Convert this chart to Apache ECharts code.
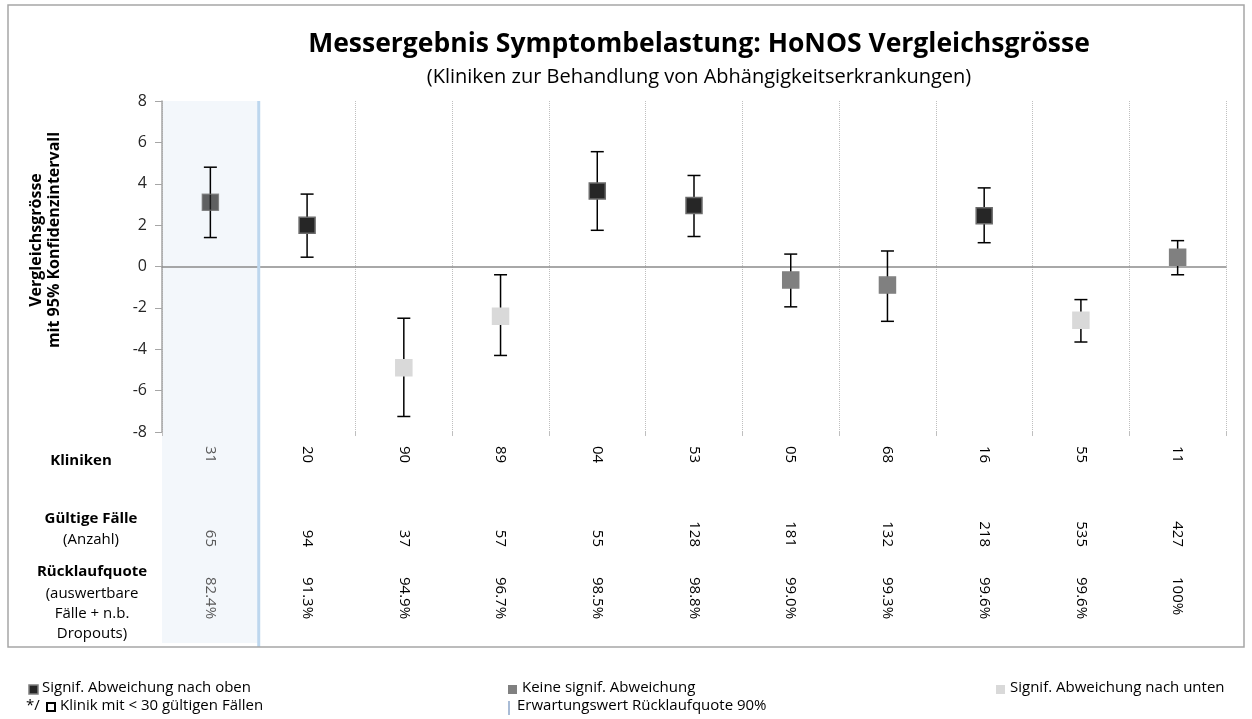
<!DOCTYPE html>
<html>
<head>
<meta charset="utf-8">
<script src="https://cdn.jsdelivr.net/npm/echarts@6/dist/echarts.min.js"></script>
<style>
  html, body { margin: 0; padding: 0; background: #fff; }
  #chart { width: 1252px; height: 719px; }
</style>
</head>
<body>
<div id="chart"></div>
<script>
// Kliniken (Reihenfolge wie in der Grafik)
const clinics = ['31', '20', '90', '89', '04', '53', '05', '68', '16', '55', '11']
const values = [3.1, 2.0, -4.9, -2.4, 3.65, 2.95, -0.65, -0.9, 2.45, -2.6, 0.45]
const lower = [1.4, 0.45, -7.25, -4.3, 1.75, 1.45, -1.95, -2.65, 1.15, -3.65, -0.4]
const upper = [4.8, 3.5, -2.5, -0.4, 5.55, 4.4, 0.6, 0.75, 3.8, -1.6, 1.25]
const status = ['oben', 'oben', 'unten', 'unten', 'oben', 'oben', 'keine', 'keine', 'oben', 'unten', 'keine']
const cases = ['65', '94', '37', '57', '55', '128', '181', '132', '218', '535', '427']
const returnRate = ['82.4%', '91.3%', '94.9%', '96.7%', '98.5%', '98.8%', '99.0%', '99.3%', '99.6%', '99.6%', '100%']
const highlighted = 0 // Klinik unter Erwartungswert Rücklaufquote

const yMin = -8
const yMax = 8
const yStep = 2

const FONT = '"Open Sans", "Noto Sans", sans-serif'
const statusColor = { oben: '#262626', keine: '#808080', unten: '#d9d9d9' }
const statusBorder = { oben: '#6b6b6b', keine: '#808080', unten: '#d9d9d9' }

const chartDom = document.getElementById('chart')
const myChart = echarts.init(chartDom)

const labelColor = (v, i) => (i === highlighted ? '#595959' : '#000')

const tableAxis = (margin, list, align) => ({
  type: 'category',
  data: clinics,
  position: 'bottom',
  axisLine: { show: false, onZero: false },
  axisTick: { show: false },
  splitLine: { show: false },
  axisLabel: {
    rotate: -90,
    margin,
    align,
    fontFamily: FONT,
    fontSize: 15,
    color: labelColor,
    formatter: (v, i) => list[i],
  },
})

const option = {
  animation: false,
  textStyle: { fontFamily: FONT },
  title: [
    {
      text: 'Messergebnis Symptombelastung: HoNOS Vergleichsgrösse',
      left: 694,
      top: 26,
      textAlign: 'center',
      textStyle: { fontFamily: FONT, fontSize: 26.5, fontWeight: 'bold', color: '#000' },
    },
    {
      text: '(Kliniken zur Behandlung von Abhängigkeitserkrankungen)',
      left: 694,
      top: 62,
      textAlign: 'center',
      textStyle: { fontFamily: FONT, fontSize: 20, fontWeight: 'normal', color: '#000' },
    },
  ],
  grid: {
    left: 162,
    right: 26,
    top: 101,
    bottom: 287,
    containLabel: false,
  },
  xAxis: [
    {
      type: 'category',
      data: clinics,
      axisLine: { onZero: true, lineStyle: { color: '#8c8c8c', width: 1.5 } },
      axisTick: { show: false },
      axisLabel: { show: false },
      splitLine: { show: true, lineStyle: { color: '#bfbfbf', type: [1, 1], width: 1 } },
    },
    {
      type: 'category',
      data: clinics,
      position: 'bottom',
      axisLine: { show: false, onZero: false },
      axisTick: { show: true, length: 4, lineStyle: { color: '#bfbfbf' } },
      splitLine: { show: false },
      axisLabel: {
        rotate: -90,
        margin: 14,
        fontFamily: FONT,
        fontSize: 15,
        color: labelColor,
      },
    },
    tableAxis(115, cases, 'right'),
    tableAxis(145, returnRate, 'left'),
  ],
  yAxis: {
    type: 'value',
    min: yMin,
    max: yMax,
    interval: yStep,
    axisLine: { show: true, lineStyle: { color: '#a6a6a6', width: 1.5 } },
    axisTick: { show: true, length: 7, lineStyle: { color: '#a6a6a6' } },
    axisLabel: { fontFamily: FONT, fontSize: 16, color: '#262626', margin: 15 },
    splitLine: { show: false },
  },
  series: [
    {
      type: 'custom',
      xAxisIndex: 0,
      z: 3,
      data: clinics.map((c, i) => [i, lower[i], upper[i]]),
      renderItem(params, api) {
        const lo = api.coord([api.value(0), api.value(1)])
        const hi = api.coord([api.value(0), api.value(2)])
        const cap = 6.5
        const style = { stroke: '#000', lineWidth: 1.5, fill: 'none' }
        return {
          type: 'group',
          children: [
            { type: 'line', shape: { x1: lo[0], y1: lo[1], x2: hi[0], y2: hi[1] }, style },
            { type: 'line', shape: { x1: lo[0] - cap, y1: lo[1], x2: lo[0] + cap, y2: lo[1] }, style },
            { type: 'line', shape: { x1: hi[0] - cap, y1: hi[1], x2: hi[0] + cap, y2: hi[1] }, style },
          ],
        }
      },
    },
    {
      type: 'scatter',
      xAxisIndex: 0,
      z: 4,
      symbol: 'rect',
      symbolSize: 16,
      data: values.map((v, i) => ({
        value: [i, v],
        itemStyle: {
          color: statusColor[status[i]],
          borderColor: statusBorder[status[i]],
          borderWidth: 1.5,
          opacity: i === highlighted ? 0.72 : 1,
        },
      })),
    },
  ],
}

myChart.setOption(option)

// Hervorgehobene Spalte, Tabellenbeschriftung, Legende
const c0 = myChart.convertToPixel({ xAxisIndex: 0 }, 0)
const c1 = myChart.convertToPixel({ xAxisIndex: 0 }, 1)
const colW = c1 - c0
const yTop = myChart.convertToPixel({ yAxisIndex: 0 }, yMax)
const rowText = (text, x, y, bold) => ({
  type: 'text',
  x,
  y,
  style: {
    text,
    fontFamily: FONT,
    fontSize: 15,
    fontWeight: bold ? 'bold' : 'normal',
    fill: '#000',
    align: 'center',
    verticalAlign: 'middle',
  },
})
const legendText = (text, x, y) => ({
  type: 'text',
  x,
  y,
  style: { text, fontFamily: FONT, fontSize: 15, fill: '#000', verticalAlign: 'middle' },
})

myChart.setOption({
  graphic: [
    {
      type: 'rect',
      z: -10,
      shape: { x: c0 - colW / 2, y: yTop, width: colW, height: 643 - yTop },
      style: { fill: '#f3f7fb' },
    },
    {
      type: 'line',
      z: 10,
      shape: { x1: c0 + colW / 2, y1: yTop, x2: c0 + colW / 2, y2: 647 },
      style: { stroke: '#bdd7ee', lineWidth: 3 },
    },
    {
      type: 'rect',
      z: 10,
      shape: { x: 8, y: 5, width: 1236, height: 642 },
      style: { fill: 'none', stroke: '#a6a6a6', lineWidth: 1.5 },
    },
    {
      type: 'text',
      x: 45,
      y: 240,
      rotation: Math.PI / 2,
      style: {
        text: 'Vergleichsgrösse\nmit 95% Konfidenzintervall',
        fontFamily: FONT,
        fontSize: 16,
        fontWeight: 'bold',
        lineHeight: 18,
        fill: '#000',
        align: 'center',
        verticalAlign: 'middle',
      },
    },
    rowText('Kliniken', 81, 461, true),
    rowText('Gültige Fälle', 91, 519, true),
    rowText('(Anzahl)', 91, 540, false),
    rowText('Rücklaufquote', 92, 572, true),
    rowText('(auswertbare', 92, 594, false),
    rowText('Fälle + n.b.', 92, 614, false),
    rowText('Dropouts)', 92, 634, false),
    { type: 'rect', shape: { x: 29, y: 685, width: 9, height: 9 }, style: { fill: '#262626', stroke: '#7f7f7f', lineWidth: 1.5 } },
    legendText('Signif. Abweichung nach oben', 42, 688),
    legendText('*/', 26, 706),
    { type: 'rect', shape: { x: 47, y: 703, width: 8, height: 8 }, style: { fill: '#fff', stroke: '#000', lineWidth: 2 } },
    legendText('Klinik mit < 30 gültigen Fällen', 60, 706),
    { type: 'rect', shape: { x: 508, y: 685, width: 9, height: 9 }, style: { fill: '#808080' } },
    legendText('Keine signif. Abweichung', 522, 688),
    { type: 'line', shape: { x1: 509, y1: 701, x2: 509, y2: 715 }, style: { stroke: '#a9bcd6', lineWidth: 2 } },
    legendText('Erwartungswert Rücklaufquote 90%', 517, 706),
    { type: 'rect', shape: { x: 996, y: 685, width: 9, height: 9 }, style: { fill: '#d9d9d9' } },
    legendText('Signif. Abweichung nach unten', 1010, 688),
  ],
})
</script>
</body>
</html>
